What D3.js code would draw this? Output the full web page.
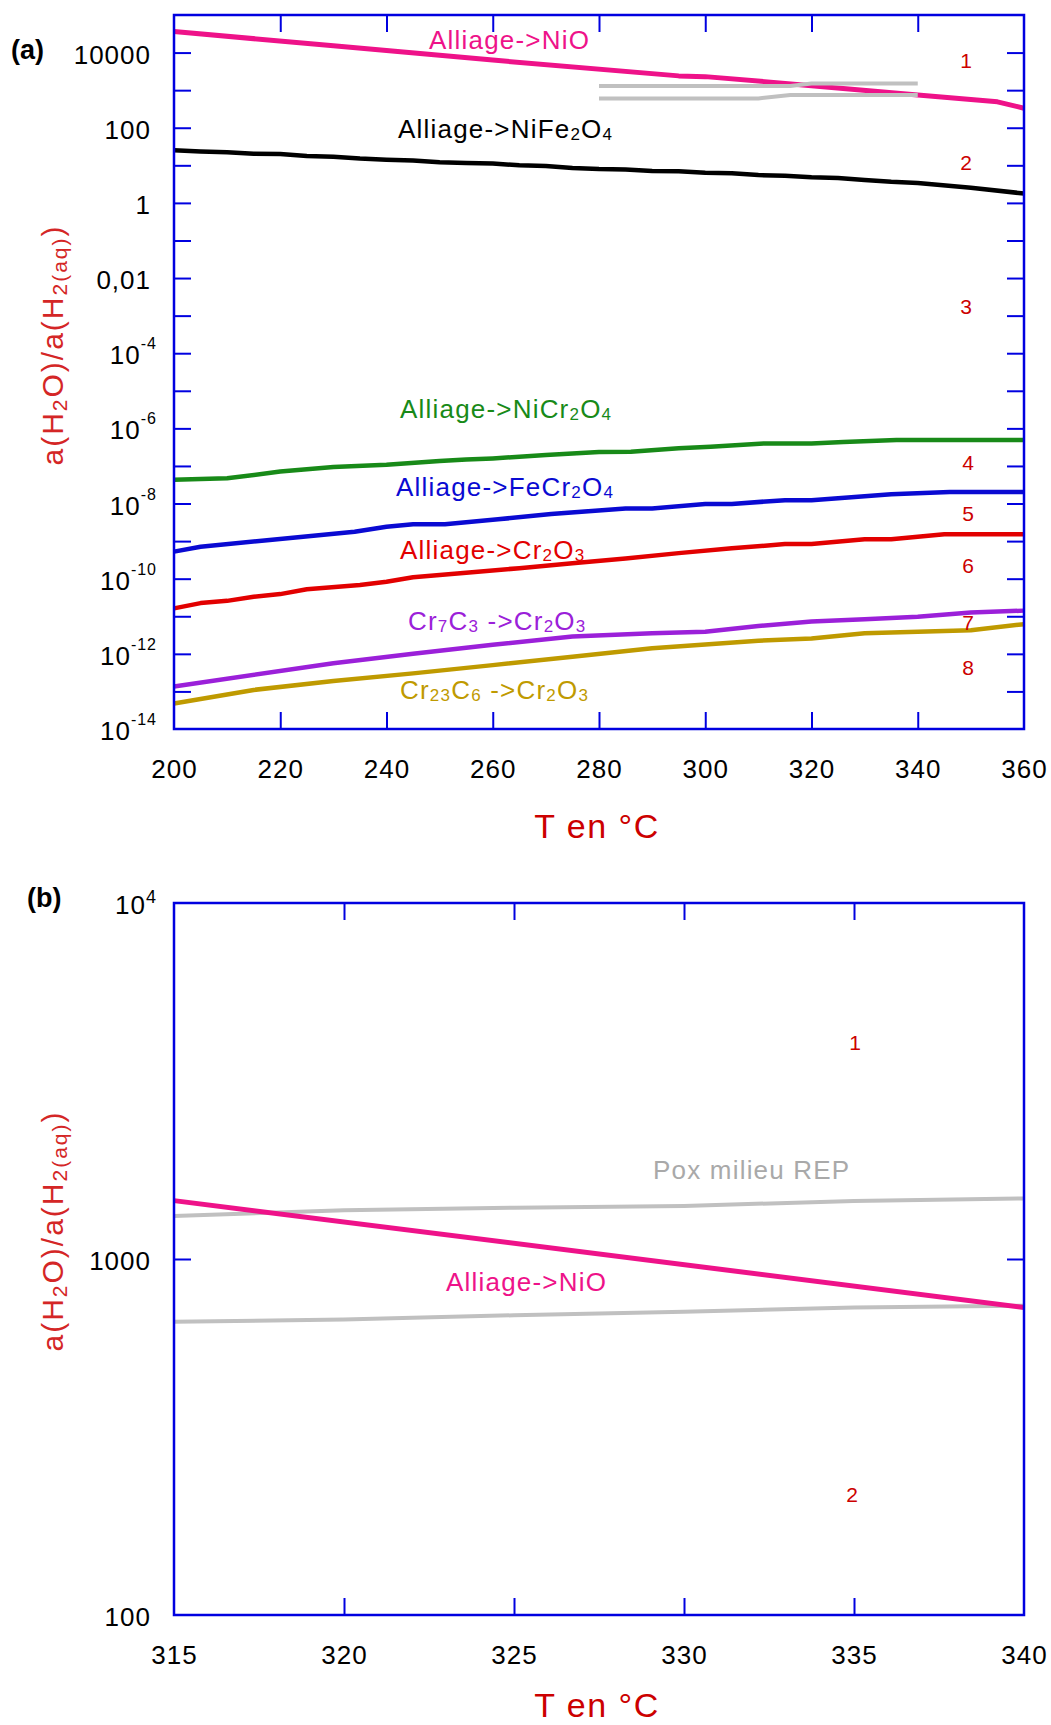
<!DOCTYPE html>
<html><head><meta charset="utf-8">
<script src="https://cdn.jsdelivr.net/npm/d3@7"></script>
<style>body{margin:0;background:#fff}</style>
</head><body>
<svg id="c" width="1051" height="1725" xmlns="http://www.w3.org/2000/svg"></svg>
<script>
// ---------------- DATA (values are log10 of a(H2O)/a(H2(aq))) ----------------
const xTicksA = [200, 220, 240, 260, 280, 300, 320, 340, 360];
const yTickExpA = [-13,-12,-11,-10,-9,-8,-7,-6,-5,-4,-3,-2,-1,0,1,2,3,4];
const yLabelExpA = [4, 2, 0, -2, -4, -6, -8, -10, -12, -14];
const yLabelBaseA = ["10000", "100", "1", "0,01", "10", "10", "10", "10", "10", "10"];
const yLabelSupA = ["", "", "", "", "-4", "-6", "-8", "-10", "-12", "-14"];

const nioA = [[200,4.56],[230,4.18],[260,3.80],[295,3.38],[300,3.36],[320,3.12],[340,2.87],[355,2.69],[360,2.52]];
const poxUpperA = [[280,3.11],[316,3.11],[320,3.18],[340,3.18]];
const poxLowerA = [[280,2.78],[310,2.78],[316,2.87],[340,2.87]];
const nife2o4A = [[200,1.40],[205,1.37],[210,1.35],[215,1.31],[220,1.30],[225,1.25],[230,1.23],[235,1.18],[240,1.15],[245,1.13],[250,1.08],[255,1.06],[260,1.05],[265,1.00],[270,0.98],[275,0.93],[280,0.90],[285,0.89],[290,0.85],[295,0.84],[300,0.80],[305,0.79],[310,0.74],[315,0.72],[320,0.68],[325,0.66],[330,0.61],[335,0.56],[340,0.53],[350,0.40],[360,0.25]];
const nicr2o4A = [[200,-7.37],[210,-7.33],[220,-7.15],[230,-7.03],[240,-6.97],[250,-6.87],[255,-6.83],[260,-6.80],[270,-6.71],[280,-6.63],[286,-6.62],[295,-6.53],[301,-6.49],[311,-6.40],[320,-6.40],[326,-6.36],[336,-6.31],[360,-6.31]];
const fecr2o4A = [[200,-9.28],[205,-9.15],[218,-8.97],[234,-8.75],[240,-8.62],[245,-8.55],[251,-8.55],[261,-8.42],[271,-8.28],[285,-8.13],[290,-8.13],[300,-8.01],[305,-8.01],[315,-7.91],[320,-7.91],[325,-7.86],[335,-7.75],[346,-7.69],[360,-7.69]];
const cr2o3A = [[200,-10.79],[205,-10.65],[210,-10.59],[215,-10.48],[220,-10.41],[225,-10.28],[235,-10.17],[240,-10.08],[245,-9.96],[255,-9.84],[265,-9.72],[275,-9.59],[285,-9.46],[295,-9.32],[305,-9.19],[315,-9.08],[320,-9.08],[330,-8.95],[335,-8.95],[345,-8.82],[360,-8.82]];
const cr7c3A = [[200,-12.87],[230,-12.25],[245,-12.00],[260,-11.76],[275,-11.54],[290,-11.45],[300,-11.41],[310,-11.26],[320,-11.14],[330,-11.08],[340,-11.01],[350,-10.90],[360,-10.85]];
const cr23c6A = [[200,-13.32],[215,-12.96],[230,-12.72],[245,-12.52],[260,-12.30],[275,-12.08],[290,-11.85],[310,-11.65],[320,-11.59],[330,-11.45],[340,-11.41],[350,-11.37],[360,-11.21]];
const regionLabelsA = ["1","2","3","4","5","6","7","8"];

const xTicksB = [315, 320, 325, 330, 335, 340];
const yTickExpB = [2, 3, 4];
const yLabelBaseB = ["100", "1000", "10"];
const yLabelSupB = ["", "", "4"];
const nioB = [[315,3.164],[340,2.864]];
const poxUpperB = [[315,3.121],[320,3.137],[325,3.144],[330,3.149],[335,3.163],[340,3.170]];
const poxLowerB = [[315,2.824],[320,2.830],[325,2.842],[330,2.852],[335,2.864],[340,2.869]];
const regionLabelsB = ["1","2"];

// ---------------- STYLE ----------------
const FONT = "'Liberation Sans', Arial, Helvetica, sans-serif";
const AXC = "#0000e0";
const C = {nio:"#ee1289", pox:"#c0c0c0", nife:"#000000", nicr:"#188a18", fecr:"#0a0ad2",
           cr2o3:"#e20000", cr7:"#9b20d9", cr23:"#bf9a00", num:"#cc0000", title:"#cc0000"};

const svg = d3.select("#c");
svg.append("rect").attr("width",1051).attr("height",1725).attr("fill","#fff");

function rich(g, x, y, parts, opts) {
  const t = g.append("text").attr("x", x).attr("y", y)
    .attr("font-family", FONT).attr("font-size", opts.size)
    .attr("fill", opts.color).attr("text-anchor", opts.anchor || "start");
  if (opts.weight) t.attr("font-weight", opts.weight);
  if (opts.ls !== undefined) t.attr("letter-spacing", opts.ls);
  if (opts.transform) t.attr("transform", opts.transform);
  let shift = 0;
  parts.forEach(p => {
    const [txt, kind] = p;
    let target = 0, fs = opts.size;
    if (kind === "sub") { target = opts.subDy !== undefined ? opts.subDy : Math.round(opts.size*0.12); fs = opts.subSize || Math.round(opts.size*0.66); }
    if (kind === "sup") { target = opts.supDy || -Math.round(opts.size*0.5); fs = opts.supSize || Math.round(opts.size*0.62); }
    t.append("tspan").attr("dy", target - shift).attr("font-size", fs).text(txt);
    shift = target;
  });
  return t;
}

function panel(cfg) {
  const g = svg.append("g");
  const x = d3.scaleLinear().domain(cfg.xDomain).range([cfg.left, cfg.right]);
  const y = d3.scaleLog().domain(cfg.yDomain).range([cfg.bottom, cfg.top]);
  const clipId = "clip" + cfg.id;
  svg.append("clipPath").attr("id", clipId).append("rect")
    .attr("x", cfg.left - 3).attr("y", cfg.top).attr("width", cfg.right - cfg.left + 6).attr("height", cfg.bottom - cfg.top);
  const line = d3.line().x(d => x(d[0])).y(d => y(Math.pow(10, d[1])));

  const lg = g.append("g").attr("clip-path", `url(#${clipId})`);
  cfg.series.forEach(s => {
    lg.append("path").datum(s.data).attr("d", line).attr("fill","none")
      .attr("stroke", s.color).attr("stroke-width", s.w).attr("stroke-linejoin","round").attr("stroke-linecap","butt");
  });

  const tickVals = cfg.yTickExp.map(e => Math.pow(10, e));
  const style = a => { a.selectAll("path.domain").remove(); a.selectAll("line").attr("stroke", AXC).attr("stroke-width", 2); a.selectAll("text").remove(); };
  g.append("g").attr("transform", `translate(0,${cfg.bottom})`).call(d3.axisBottom(x).tickValues(cfg.xTicks).tickSize(-17).tickFormat("")).call(style);
  g.append("g").attr("transform", `translate(0,${cfg.top})`).call(d3.axisTop(x).tickValues(cfg.xTicks).tickSize(-17).tickFormat("")).call(style);
  g.append("g").attr("transform", `translate(${cfg.left},0)`).call(d3.axisLeft(y).tickValues(tickVals).tickSize(-17).tickFormat("")).call(style);
  g.append("g").attr("transform", `translate(${cfg.right},0)`).call(d3.axisRight(y).tickValues(tickVals).tickSize(-17).tickFormat("")).call(style);
  g.append("rect").attr("x", cfg.left).attr("y", cfg.top).attr("width", cfg.right - cfg.left).attr("height", cfg.bottom - cfg.top)
    .attr("fill","none").attr("stroke", AXC).attr("stroke-width", 2.5);

  cfg.xLabels.forEach(v => {
    g.append("text").attr("x", x(v) + 0.5).attr("y", cfg.bottom + 49).attr("text-anchor","middle")
      .attr("font-family", FONT).attr("font-size", 26).attr("letter-spacing", 1).attr("fill","#000").text(v);
  });
  cfg.yLabelExp.forEach((e, i) => {
    const yy = y(Math.pow(10, e));
    const sup = cfg.yLabelSup[i];
    if (sup) {
      rich(g, cfg.left - 17, yy + 11, [[cfg.yLabelBase[i], "n"], [sup, "sup"]],
        {size: 26, color: "#000", anchor: "end", ls: 1, supSize: cfg.supSize, supDy: cfg.supDy});
    } else {
      g.append("text").attr("x", cfg.left - 23).attr("y", yy + 11).attr("text-anchor","end")
        .attr("font-family", FONT).attr("font-size", 26).attr("letter-spacing", 1).attr("fill","#000").text(cfg.yLabelBase[i]);
    }
  });
  return {g, x, y};
}

// ---------------- PANEL A ----------------
const A = panel({
  id: "A", xDomain: [200, 360], yDomain: [1e-14, 1e5],
  left: 174, right: 1024, top: 15, bottom: 729,
  xTicks: xTicksA.slice(1, -1), xLabels: xTicksA, yTickExp: yTickExpA,
  yLabelExp: yLabelExpA, yLabelBase: yLabelBaseA, yLabelSup: yLabelSupA, supSize: 16, supDy: -15,
  series: [
    {data: nioA, color: C.nio, w: 5},
    {data: poxUpperA, color: C.pox, w: 4},
    {data: poxLowerA, color: C.pox, w: 4},
    {data: nife2o4A, color: C.nife, w: 4.5},
    {data: nicr2o4A, color: C.nicr, w: 4.5},
    {data: fecr2o4A, color: C.fecr, w: 4.5},
    {data: cr2o3A, color: C.cr2o3, w: 4.5},
    {data: cr7c3A, color: C.cr7, w: 4.5},
    {data: cr23c6A, color: C.cr23, w: 4.5}
  ]
});

const LS = 26, LSP = 1.2;
const subOpt = {subSize: 17, subDy: 2};
rich(A.g, 429, 49, [["Alliage->NiO","n"]], {size: LS, ls: LSP, color: C.nio});
rich(A.g, 398, 138, [["Alliage->NiFe","n"],["2","sub"],["O","n"],["4","sub"]], {size: LS, ls: LSP, color: C.nife, ...subOpt});
rich(A.g, 400, 418, [["Alliage->NiCr","n"],["2","sub"],["O","n"],["4","sub"]], {size: LS, ls: LSP, color: C.nicr, ...subOpt});
rich(A.g, 396, 496, [["Alliage->FeCr","n"],["2","sub"],["O","n"],["4","sub"]], {size: LS, ls: LSP, color: C.fecr, ...subOpt});
rich(A.g, 400, 559, [["Alliage->Cr","n"],["2","sub"],["O","n"],["3","sub"]], {size: LS, ls: LSP, color: C.cr2o3, ...subOpt});
rich(A.g, 408, 630, [["Cr","n"],["7","sub"],["C","n"],["3","sub"],[" ->Cr","n"],["2","sub"],["O","n"],["3","sub"]], {size: LS, ls: LSP, color: C.cr7, ...subOpt});
rich(A.g, 400, 699, [["Cr","n"],["23","sub"],["C","n"],["6","sub"],[" ->Cr","n"],["2","sub"],["O","n"],["3","sub"]], {size: LS, ls: LSP, color: C.cr23, ...subOpt});

const numPosA = [[966,61],[966,163],[966,307],[968,463],[968,514],[968,566],[968,623],[968,668]];
regionLabelsA.forEach((t, i) => {
  A.g.append("text").attr("x", numPosA[i][0]).attr("y", numPosA[i][1] + 7).attr("text-anchor","middle")
    .attr("font-family", FONT).attr("font-size", 21).attr("fill", C.num).text(t);
});

rich(svg, 597, 838, [["T en °C","n"]], {size: 34, ls: 1.5, color: C.title, anchor: "middle"});
rich(svg, 0, 0, [["a(H","n"],["2","sub"],["O)/a(H","n"],["2(aq)","sub"],[")","n"]],
  {size: 30, ls: 2, color: "#d42626", anchor: "middle", subSize: 21, subDy: 4, transform: "translate(63,345) rotate(-90)"});
svg.append("text").attr("x", 11).attr("y", 59).attr("font-family", FONT).attr("font-weight","bold")
  .attr("font-size", 27).attr("fill","#000").text("(a)");

// ---------------- PANEL B ----------------
const B = panel({
  id: "B", xDomain: [315, 340], yDomain: [100, 1e4],
  left: 174, right: 1024, top: 903, bottom: 1615,
  xTicks: xTicksB.slice(1, -1), xLabels: xTicksB, yTickExp: yTickExpB.slice(1, -1),
  yLabelExp: yTickExpB, yLabelBase: yLabelBaseB, yLabelSup: yLabelSupB, supSize: 18, supDy: -11,
  series: [
    {data: poxUpperB, color: C.pox, w: 4},
    {data: poxLowerB, color: C.pox, w: 4},
    {data: nioB, color: C.nio, w: 5}
  ]
});
rich(B.g, 653, 1179, [["Pox milieu REP","n"]], {size: LS, ls: LSP, color: "#a9a9a9"});
rich(B.g, 446, 1291, [["Alliage->NiO","n"]], {size: LS, ls: LSP, color: C.nio});
const numPosB = [[855,1043],[852,1495]];
regionLabelsB.forEach((t, i) => {
  B.g.append("text").attr("x", numPosB[i][0]).attr("y", numPosB[i][1] + 7).attr("text-anchor","middle")
    .attr("font-family", FONT).attr("font-size", 21).attr("fill", C.num).text(t);
});
rich(svg, 597, 1717, [["T en °C","n"]], {size: 34, ls: 1.5, color: C.title, anchor: "middle"});
rich(svg, 0, 0, [["a(H","n"],["2","sub"],["O)/a(H","n"],["2(aq)","sub"],[")","n"]],
  {size: 30, ls: 2, color: "#d42626", anchor: "middle", subSize: 21, subDy: 4, transform: "translate(63,1231) rotate(-90)"});
svg.append("text").attr("x", 27).attr("y", 907).attr("font-family", FONT).attr("font-weight","bold")
  .attr("font-size", 27).attr("fill","#000").text("(b)");
</script>
</body></html>
